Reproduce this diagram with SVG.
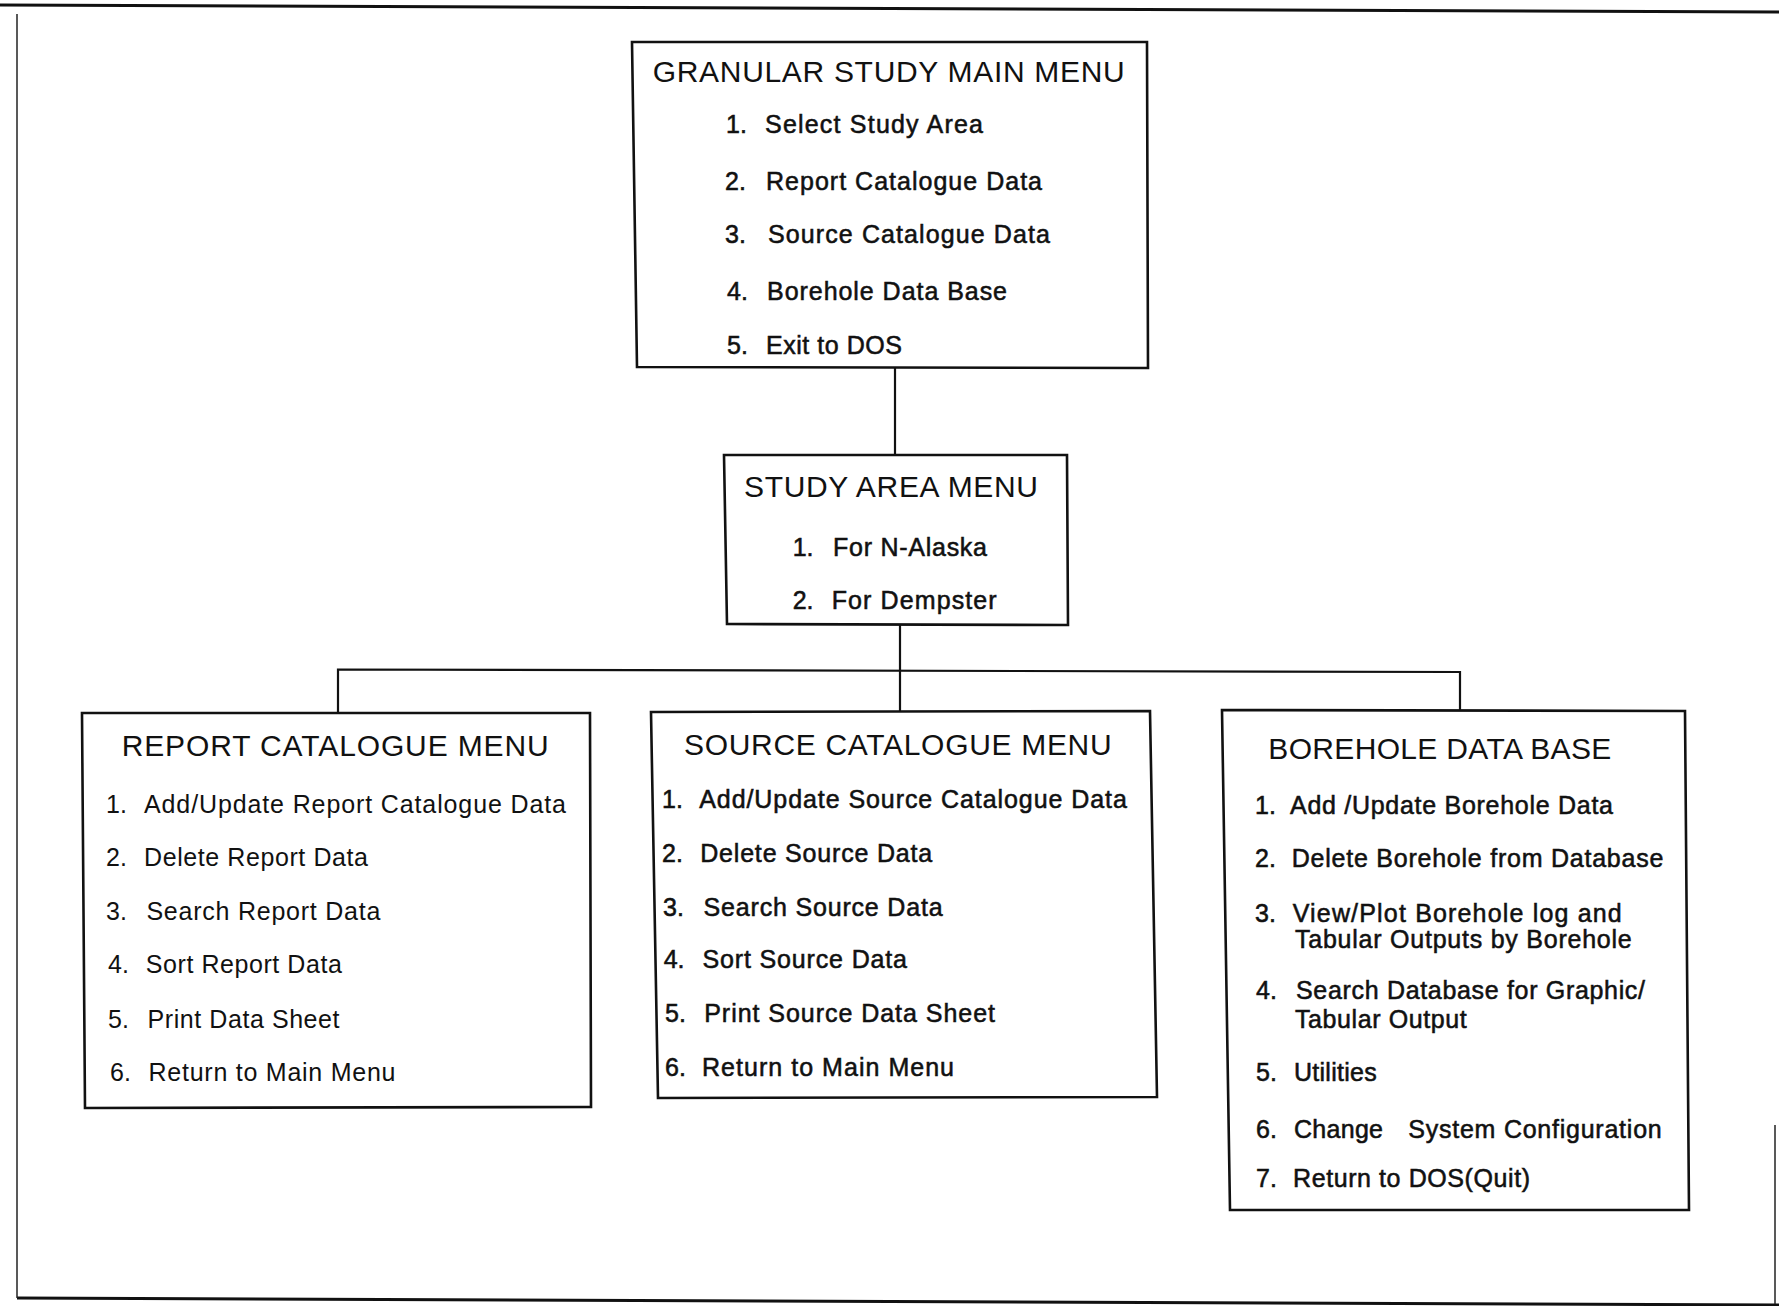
<svg xmlns="http://www.w3.org/2000/svg" width="1779" height="1306" viewBox="0 0 1779 1306">
<style>
.bg{fill:#ffffff}
.frame{fill:none;stroke:#111;stroke-width:3}
.thin{fill:none;stroke:#222;stroke-width:1.5}
.box{fill:none;stroke:#111;stroke-width:2.6;stroke-linejoin:miter}
.conn{fill:none;stroke:#111;stroke-width:2.2}
text{font-family:"Liberation Sans",Arial,Helvetica,sans-serif;fill:#111}
.title{font-size:30px}
.item{font-size:25px}
.med{stroke:#111;stroke-width:0.55}
</style>
<rect class="bg" x="0" y="0" width="1779" height="1306"/>
<g id="frame">
<path class="frame" d="M0,5 L1779,12"/>
<path class="frame" d="M17,1298 L1779,1305"/>
<path class="thin" d="M17,14 L17,1298"/>
<path class="thin" d="M1775,1125 L1775,1304"/>
</g>
<g id="connectors">
<path class="conn" d="M895,367 L895,455"/>
<path class="conn" d="M900,624 L900,712"/>
<path class="conn" d="M338,713 L338,669.5 L1460,672 L1460,710"/>
</g>
<g id="main-menu">
<path class="box" d="M632,42 L1147,42 L1148,368 L637,367 Z"/>
<text class="title" x="652.7" y="82" textLength="472">GRANULAR STUDY MAIN MENU</text>
<g class="item med">
<text x="726" y="133">1.</text><text x="765" y="133" textLength="218">Select Study Area</text>
<text x="725" y="189.5">2.</text><text x="766" y="189.5" textLength="276">Report Catalogue Data</text>
<text x="725" y="243">3.</text><text x="768" y="243" textLength="282">Source Catalogue Data</text>
<text x="727" y="299.5">4.</text><text x="767" y="299.5" textLength="240">Borehole Data Base</text>
<text x="727" y="353.5">5.</text><text x="766" y="353.5" textLength="136">Exit to DOS</text>
</g>
</g>
<g id="study-area-menu">
<path class="box" d="M724,455 L1067,455 L1068,625 L727,624 Z"/>
<text class="title" x="744" y="497" textLength="294">STUDY AREA MENU</text>
<g class="item med">
<text x="792.7" y="556">1.</text><text x="833" y="556" textLength="154">For N-Alaska</text>
<text x="792.7" y="609">2.</text><text x="831.7" y="609" textLength="165">For Dempster</text>
</g>
</g>
<g id="report-catalogue-menu">
<path class="box" d="M82,713 L590,713 L591,1107 L85,1108 Z"/>
<text class="title" x="121.7" y="756" textLength="427">REPORT CATALOGUE MENU</text>
<g class="item">
<text x="106" y="812.5">1.</text><text x="144" y="812.5" textLength="422">Add/Update Report Catalogue Data</text>
<text x="106" y="866">2.</text><text x="144" y="866" textLength="224">Delete Report Data</text>
<text x="106" y="919.5">3.</text><text x="146.4" y="919.5" textLength="234">Search Report Data</text>
<text x="108" y="972.5">4.</text><text x="145.8" y="972.5" textLength="196">Sort Report Data</text>
<text x="108" y="1027.5">5.</text><text x="147.5" y="1027.5" textLength="192">Print Data Sheet</text>
<text x="110" y="1080.5">6.</text><text x="148.5" y="1080.5" textLength="247">Return to Main Menu</text>
</g>
</g>
<g id="source-catalogue-menu">
<path class="box" d="M651,712 L1150,711 L1157,1097 L658,1098 Z"/>
<text class="title" x="684" y="754.5" textLength="427.6">SOURCE CATALOGUE MENU</text>
<g class="item med">
<text x="662" y="807.5">1.</text><text x="699.2" y="807.5" textLength="427.6">Add/Update Source Catalogue Data</text>
<text x="662" y="861.7">2.</text><text x="700.2" y="861.7" textLength="232">Delete Source Data</text>
<text x="663" y="915.5">3.</text><text x="703.6" y="915.5" textLength="239">Search Source Data</text>
<text x="663.7" y="967.5">4.</text><text x="702.5" y="967.5" textLength="204.5">Sort Source Data</text>
<text x="665" y="1021.7">5.</text><text x="704.2" y="1021.7" textLength="290.8">Print Source Data Sheet</text>
<text x="665" y="1075.5">6.</text><text x="702" y="1075.5" textLength="252">Return to Main Menu</text>
</g>
</g>
<g id="borehole-data-base">
<path class="box" d="M1222,710 L1685,711 L1689,1210 L1230,1210 Z"/>
<text class="title" x="1268.3" y="759" textLength="343">BOREHOLE DATA BASE</text>
<g class="item med">
<text x="1255" y="813.5">1.</text><text x="1290" y="813.5" textLength="323">Add /Update Borehole Data</text>
<text x="1255" y="867">2.</text><text x="1291.7" y="867" textLength="371.6">Delete Borehole from Database</text>
<text x="1255" y="921.7">3.</text><text x="1292.7" y="921.7" textLength="329">View/Plot Borehole log and</text>
<text x="1295" y="947.5" textLength="336.7">Tabular Outputs by Borehole</text>
<text x="1256" y="999">4.</text><text x="1296" y="999" textLength="349">Search Database for Graphic/</text>
<text x="1295" y="1027.5" textLength="171.7">Tabular Output</text>
<text x="1256" y="1081">5.</text><text x="1294" y="1081" textLength="82.7">Utilities</text>
<text x="1256" y="1137.5">6.</text><text x="1294" y="1137.5" textLength="89">Change</text><text x="1408.3" y="1137.5" textLength="253.4">System Configuration</text>
<text x="1256" y="1187">7.</text><text x="1293" y="1187" textLength="237">Return to DOS(Quit)</text>
</g>
</g>
</svg>
